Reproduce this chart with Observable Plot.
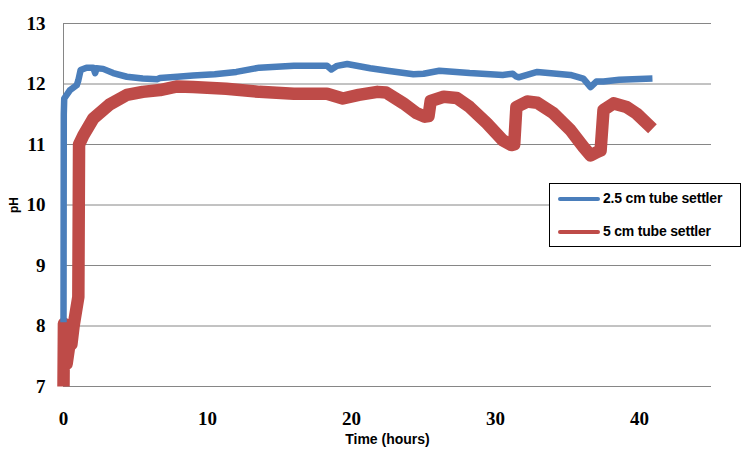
<!DOCTYPE html>
<html>
<head>
<meta charset="utf-8">
<script src="https://cdn.jsdelivr.net/npm/d3@7"></script>
<script src="https://cdn.jsdelivr.net/npm/@observablehq/plot@0.6"></script>
<style>
  html, body { margin: 0; padding: 0; background: #fff; }
  #wrap { position: relative; width: 752px; height: 451px; }
  #wrap svg g[aria-label="x-axis tick label"] text,
  #wrap svg g[aria-label="y-axis tick label"] text {
    font-family: "Liberation Serif", "Times New Roman", serif !important;
    font-size: 19px !important; font-weight: bold !important; fill: #000 !important;
  }
  #wrap svg g[aria-label="text"] text { font-family: "Liberation Sans", Arial, sans-serif; font-weight: bold; }
  #legend { position: absolute; left: 549px; top: 183px; width: 190px; height: 62px;
            border: 1.5px solid #000; background: #fff; box-sizing: content-box; }
  .sw { position: absolute; left: 8px; width: 42px; height: 4px; border-radius: 2px; }
  .lt { position: absolute; left: 53px; font-family: "Liberation Sans", Arial, sans-serif;
        font-weight: bold; font-size: 14px; letter-spacing: -0.2px; color: #000; white-space: nowrap; }
</style>
</head>
<body>
<div id="wrap"></div>
<script>
// Series names and colors
const seriesNames = ["2.5 cm tube settler", "5 cm tube settler"];
const seriesColors = ["#4A7EBB", "#BE4B48"];

// 2.5 cm tube settler: time (hours) and pH
const blueT = [0, 0.02, 0.05, 0.45, 0.92, 1.03, 1.19, 1.6, 2.07, 2.2, 2.3, 2.75, 3.45, 4.4, 5.5, 6.5, 6.7, 7.9, 9, 10.5, 12, 13.6, 16, 18.3, 18.6, 19.0, 19.7, 21.3, 22.5, 24.3, 25.0, 26.1, 28.2, 30.5, 31.2, 31.4, 31.6, 32.9, 35.2, 36.1, 36.6, 37.0, 37.5, 38.6, 40.9];
const bluePH = [8.06, 11.5, 11.76, 11.9, 11.98, 12.06, 12.23, 12.27, 12.27, 12.18, 12.26, 12.25, 12.18, 12.12, 12.09, 12.08, 12.1, 12.12, 12.14, 12.16, 12.2, 12.27, 12.3, 12.3, 12.24, 12.3, 12.33, 12.26, 12.22, 12.16, 12.17, 12.22, 12.18, 12.15, 12.17, 12.13, 12.11, 12.2, 12.15, 12.09, 11.95, 12.04, 12.04, 12.07, 12.09];

// 5 cm tube settler: time (hours) and pH
const redT = [0, 0.03, 0.22, 0.45, 0.55, 0.7, 1.03, 1.08, 1.38, 2.07, 3.2, 4.4, 5.5, 6.7, 7.9, 9, 11.3, 13.6, 16, 18.3, 19.4, 20.5, 21.8, 22.4, 23.6, 24.5, 25.1, 25.35, 25.5, 26.4, 27.3, 28.2, 29.4, 30.5, 31.1, 31.3, 31.45, 32.2, 32.9, 34, 35.2, 36.1, 36.6, 37.1, 37.3, 37.5, 38.2, 39.1, 39.8, 40.9];
const redPH = [7.0, 8.04, 7.38, 7.76, 7.7, 8.0, 8.48, 11.0, 11.15, 11.43, 11.66, 11.82, 11.87, 11.9, 11.96, 11.95, 11.92, 11.87, 11.84, 11.84, 11.76, 11.82, 11.87, 11.86, 11.68, 11.52, 11.46, 11.47, 11.72, 11.79, 11.77, 11.62, 11.35, 11.07, 10.99, 11.0, 11.62, 11.71, 11.69, 11.52, 11.24, 10.96, 10.82, 10.88, 10.9, 11.57, 11.68, 11.62, 11.51, 11.26];

// Axis ticks
const xTicks = [0, 10, 20, 30, 40];
const yTicks = [7, 8, 9, 10, 11, 12, 13];

const blue = blueT.map((t, i) => ({t, pH: bluePH[i]}));
const red = redT.map((t, i) => ({t, pH: redPH[i]}));

const sans = "'Liberation Sans', Arial, sans-serif";

const chart = Plot.plot({
  width: 752,
  height: 451,
  marginTop: 23,
  marginBottom: 65,
  marginLeft: 63,
  marginRight: 41,
  x: {domain: [0, 45]},
  y: {domain: [7, 13]},
  marks: [
    Plot.gridY(yTicks, {stroke: "#868686", strokeOpacity: 1, strokeWidth: 1}),
    Plot.ruleX([0], {y1: 7, y2: 13, stroke: "#868686", strokeWidth: 1}),
    Plot.line(red, {x: "t", y: "pH", stroke: seriesColors[1], strokeWidth: 12.5, strokeLinejoin: "round", strokeLinecap: "butt"}),
    Plot.line(blue, {x: "t", y: "pH", stroke: seriesColors[0], strokeWidth: 6.5, strokeLinejoin: "round", strokeLinecap: "butt"}),
    Plot.axisX(xTicks, {tickSize: 0, tickPadding: 25, label: null, tickFormat: d3.format("d")}),
    Plot.axisY(yTicks, {tickSize: 0, tickPadding: 18, label: null, tickFormat: d3.format("d")}),
    Plot.text(["Time (hours)"], {frameAnchor: "bottom", dy: 53, lineAnchor: "middle", fontSize: 14, fontWeight: "bold", fontFamily: sans, fill: "#000"}),
    Plot.text(["pH"], {frameAnchor: "left", dx: -49, rotate: -90, lineAnchor: "middle", textAnchor: "middle", fontSize: 12, fontWeight: "bold", fontFamily: sans, fill: "#000"})
  ]
});
chart.style.display = "block";
const wrap = document.getElementById("wrap");
wrap.appendChild(chart);

const legend = document.createElement("div");
legend.id = "legend";
seriesNames.forEach((name, i) => {
  const sw = document.createElement("div");
  sw.className = "sw";
  sw.style.background = seriesColors[i];
  sw.style.top = (i === 0 ? 13 : 46) + "px";
  const lt = document.createElement("div");
  lt.className = "lt";
  lt.textContent = name;
  lt.style.top = (i === 0 ? 6 : 39) + "px";
  legend.appendChild(sw);
  legend.appendChild(lt);
});
wrap.appendChild(legend);
</script>
</body>
</html>
